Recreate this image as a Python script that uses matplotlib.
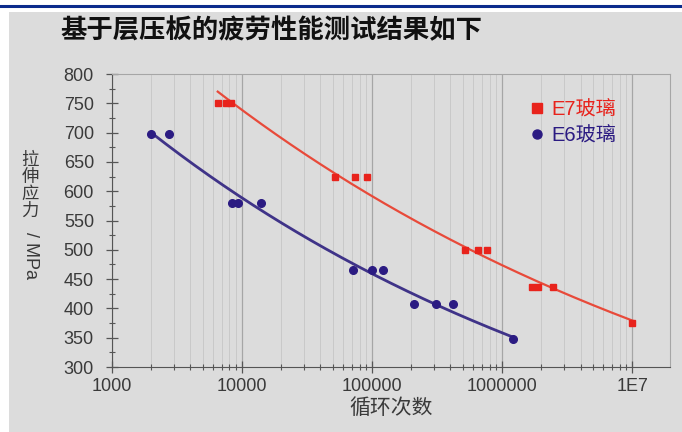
import matplotlib.pyplot as plt
import matplotlib.patches as mpatches
from matplotlib.ticker import LogLocator, NullFormatter, MultipleLocator
import numpy as np

plt.rcParams['font.family'] = ['Liberation Sans', 'Noto Sans CJK SC']

# fatigue test data: cycles to failure vs. tensile stress
e7_cycles = [6500, 7500, 8200, 52000, 74000, 91000, 520000, 650000, 760000,
             1700000, 1900000, 2450000, 10000000]
e7_stress = [750, 750, 750, 625, 625, 625, 500, 500, 500, 437, 437, 437, 375]

e6_cycles = [2000, 2750, 8400, 9300, 14000, 71000, 100000, 121000,
             210000, 310000, 415000, 1200000]
e6_stress = [698, 698, 580, 580, 580, 465, 465, 465, 407, 407, 407, 348]

x_ticks = [1000, 10000, 100000, 1000000, 10000000]
x_ticklabels = ['1000', '10000', '100000', '1000000', '1E7']

red = '#e8231c'
red_line = '#e84a3a'
blue = '#2b1b82'
blue_line = '#3f3388'
bg = '#dcdcdc'
text_c = '#3a3a3a'

fig = plt.figure(figsize=(6.82, 4.32), dpi=100)
fig.patch.set_facecolor('white')

# slide header: blue rule and grey panel
fig.add_artist(plt.Line2D([0, 1], [1 - 6 / 432, 1 - 6 / 432], color='#0b2b8c', lw=2.2,
                          transform=fig.transFigure))
fig.add_artist(mpatches.Rectangle((9 / 682, 0), 1, 1 - 12 / 432, facecolor=bg,
                                  edgecolor='none', transform=fig.transFigure, zorder=-10))

ax = fig.add_axes([112 / 682, 1 - 367 / 432, (670 - 112) / 682, (367 - 74) / 432])
ax.set_facecolor(bg)


def power_fit(n, s):
    b, a = np.polyfit(np.log10(n), np.log10(s), 1)
    xs = np.logspace(np.log10(min(n)), np.log10(max(n)), 200)
    return xs, 10 ** a * xs ** b


xs, ys = power_fit(e7_cycles, e7_stress)
ax.plot(xs, ys, color=red_line, lw=1.6, zorder=3)
xs, ys = power_fit(e6_cycles, e6_stress)
ax.plot(xs, ys, color=blue_line, lw=2.0, zorder=3)

ax.plot(e7_cycles, e7_stress, 's', color=red, ms=5, ls='none', zorder=4)
ax.plot(e6_cycles, e6_stress, 'o', color=blue, ms=5.5, ls='none', zorder=4)

ax.set_xscale('log')
ax.set_xlim(1000, 10 ** 7.29)
ax.set_ylim(300, 800)

ax.set_xticks(x_ticks)
ax.set_xticklabels(x_ticklabels)
ax.xaxis.set_minor_locator(LogLocator(base=10, subs=np.arange(2, 10)))
ax.xaxis.set_minor_formatter(NullFormatter())
ax.yaxis.set_major_locator(MultipleLocator(50))
ax.yaxis.set_minor_locator(MultipleLocator(25))

ax.grid(True, which='major', axis='x', color='#a6a6a6', lw=0.9)
ax.grid(True, which='minor', axis='x', color='#c9c9c9', lw=0.7)
ax.set_axisbelow(True)

for side in ['top', 'right']:
    ax.spines[side].set_color('#a6a6a6')
for side in ['left', 'bottom']:
    ax.spines[side].set_color('#555555')

ax.tick_params(which='major', direction='inout', length=8, width=0.9, color='#555555',
               labelsize=13, labelcolor=text_c, pad=4)
ax.tick_params(axis='y', which='major', pad=9)
ax.tick_params(which='minor', direction='inout', length=4, width=0.8, color='#555555')
ax.tick_params(axis='x', which='both', top=False)
ax.tick_params(axis='y', which='both', right=False)

ax.set_xlabel('循环次数', fontsize=15, color=text_c, labelpad=2)

# vertical axis title: upright CJK characters, rotated latin part
for ch, y in zip('拉伸应力', [160, 177, 194, 211]):
    fig.text(30 / 682, 1 - y / 432, ch, fontsize=12.5, color=text_c,
             ha='center', va='center')
fig.text(30 / 682, 1 - 256 / 432, '/ MPa', fontsize=13, color=text_c,
         rotation=-90, ha='center', va='center')

fig.text(60 / 682, 1 - 30 / 432, '基于层压板的疲劳性能测试结果如下',
         fontsize=19, fontweight='bold', color='#111111', va='center', ha='left')

handles = [plt.Line2D([], [], marker='s', color=red, ls='none', ms=7.5),
           plt.Line2D([], [], marker='o', color=blue, ls='none', ms=6.5)]
leg = ax.legend(handles, ['E7玻璃', 'E6玻璃'], loc='upper left',
                bbox_to_anchor=(521 / 682, 1 - 90 / 432), bbox_transform=fig.transFigure,
                frameon=False, fontsize=14.5, handlelength=0.6, handletextpad=0.4,
                labelspacing=0.35, borderpad=0)
for txt, c in zip(leg.get_texts(), [red, blue]):
    txt.set_color(c)

fig.savefig('out.png', dpi=100, facecolor=fig.get_facecolor())
